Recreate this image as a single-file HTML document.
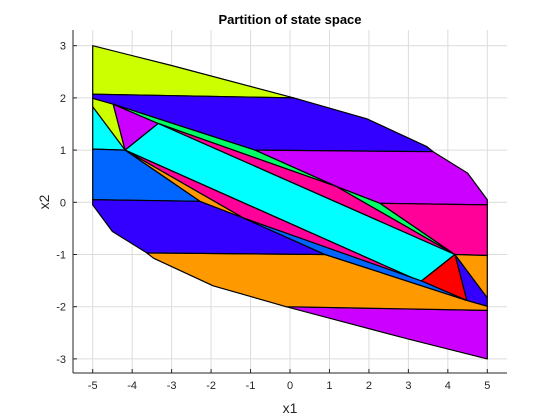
<!DOCTYPE html>
<html><head><meta charset="utf-8"><style>
body{margin:0;background:#fff;}
svg{display:block;font-family:"Liberation Sans",sans-serif;}
</style></head><body>
<svg id="chart" width="560" height="420">
<rect width="560" height="420" fill="#fff"/>
<g id="grid"></g>
<g id="polys"></g>
<g id="axes"></g>
<text x="290" y="24" text-anchor="middle" font-size="13" font-weight="bold" fill="#000">Partition of state space</text>
<text x="290" y="413" text-anchor="middle" font-size="14" fill="#262626">x1</text>
<text x="49" y="202" text-anchor="middle" font-size="14" fill="#262626" transform="rotate(-90 49 202)">x2</text>
</svg>
<script>
const xTicks=[-5,-4,-3,-2,-1,0,1,2,3,4,5];
const yTicks=[-3,-2,-1,0,1,2,3];
const regionNames=["top-yellow","upper-blue","upper-purple","left-yellow-tri","left-cyan-tri","magenta-tri","green-strip","green-tri","upper-pink","right-pink","center-cyan","left-lightblue","bottom-purple","lower-orange","lower-darkblue","right-blue-tri","right-orange-tri","red-tri","lower-pink","lightblue-strip","orange-tri"];
const regionColors=["#ccff00","#3300ff","#cc00ff","#ccff00","#00ffff","#cc00ff","#00ff66","#00ff66","#ff0099","#ff0099","#00ffff","#0066ff","#cc00ff","#ff9900","#3300ff","#3300ff","#ff9900","#ff0000","#ff0099","#0066ff","#ff9900"];
const regionVerts=[
[[-5,3],[-3,2.62],[0.1,2.0],[-5,2.07]],
[[-5,2.07],[0.1,2.0],[1.95,1.6],[3.46,1.07],[3.63,0.97],[-0.89,1.0],[-4.48,1.88],[-5,1.99]],
[[-0.89,1.0],[3.63,0.97],[4.5,0.56],[5,0.05],[5,-0.05],[2.28,-0.02],[1.18,0.3]],
[[-5,1.99],[-4.48,1.88],[-4.18,1.0],[-5,1.83]],
[[-5,1.83],[-4.18,1.0],[-5,1.02]],
[[-4.48,1.88],[-3.34,1.51],[-4.18,1.0]],
[[-4.48,1.88],[-0.89,1.0],[1.18,0.3],[-3.34,1.51]],
[[1.18,0.3],[2.28,-0.02],[4.18,-1.0]],
[[-3.34,1.51],[1.18,0.3],[4.18,-1.0]],
[[2.28,-0.02],[5,-0.05],[5,-1.02],[4.18,-1.0]],
[[-3.34,1.51],[4.18,-1.0],[3.31,-1.52],[-4.18,1.0]],
[[-5,1.02],[-4.18,1.0],[-2.28,0.02],[-5,0.05]],
[[5,-3],[3,-2.62],[-0.1,-2.0],[5,-2.07]],
[[5,-2.07],[-0.1,-2.0],[-1.95,-1.6],[-3.46,-1.07],[-3.63,-0.97],[0.89,-1.0],[4.48,-1.88],[5,-1.99]],
[[0.89,-1.0],[-3.63,-0.97],[-4.5,-0.56],[-5,-0.05],[-5,0.05],[-2.28,0.02],[-1.18,-0.3]],
[[5,-1.99],[4.48,-1.88],[4.18,-1.0],[5,-1.83]],
[[5,-1.83],[4.18,-1.0],[5,-1.02]],
[[4.48,-1.88],[3.31,-1.52],[4.18,-1.0]],
[[3.31,-1.52],[-1.18,-0.3],[-4.18,1.0]],
[[4.48,-1.88],[0.89,-1.0],[-1.18,-0.3],[3.34,-1.51]],
[[-1.18,-0.3],[-2.28,0.02],[-4.18,1.0]]
];
const NS="http://www.w3.org/2000/svg";
const L=73,R=507,T=30,B=373;
function sx(x){return 290+39.46*x;}
function sy(y){return 202.3-52.2*y;}
function mk(tag,attrs,parent){const e=document.createElementNS(NS,tag);for(const k in attrs)e.setAttribute(k,attrs[k]);parent.appendChild(e);return e;}
const grid=document.getElementById('grid'),polys=document.getElementById('polys'),axes=document.getElementById('axes');
xTicks.forEach(t=>{
  const g=mk('line',{x1:sx(t),x2:sx(t),y1:T,y2:B,stroke:'#dcdcdc','stroke-width':1},grid);
  
  
  const tk=mk('line',{x1:sx(t),x2:sx(t),y1:B,y2:B-4,stroke:'#262626'},axes);
  
  
  const lb=mk('text',{x:sx(t),y:B+16,'text-anchor':'middle','font-size':11,fill:'#262626'},axes);
  lb.textContent=t;
  
  
});
yTicks.forEach(t=>{
  const g=mk('line',{x1:L,x2:R,y1:sy(t),y2:sy(t),stroke:'#dcdcdc','stroke-width':1},grid);
  
  
  const tk=mk('line',{x1:L,x2:L+4,y1:sy(t),y2:sy(t),stroke:'#262626'},axes);
  
  
  const lb=mk('text',{x:L-7,y:sy(t)+4,'text-anchor':'end','font-size':11,fill:'#262626'},axes);
  lb.textContent=t;
  
  
});
regionVerts.forEach((vs,i)=>{
  const p=mk('polygon',{points:vs.map(v=>sx(v[0]).toFixed(1)+','+sy(v[1]).toFixed(1)).join(' '),fill:regionColors[i],stroke:'#000','stroke-width':1.2,'stroke-linejoin':'round'},polys);
  
  
});
const ax1=mk('line',{x1:L,x2:L,y1:T,y2:B,stroke:'#262626','stroke-width':1},axes);


const ax2=mk('line',{x1:L,x2:R,y1:B,y2:B,stroke:'#262626','stroke-width':1},axes);


</script>
</body></html>
